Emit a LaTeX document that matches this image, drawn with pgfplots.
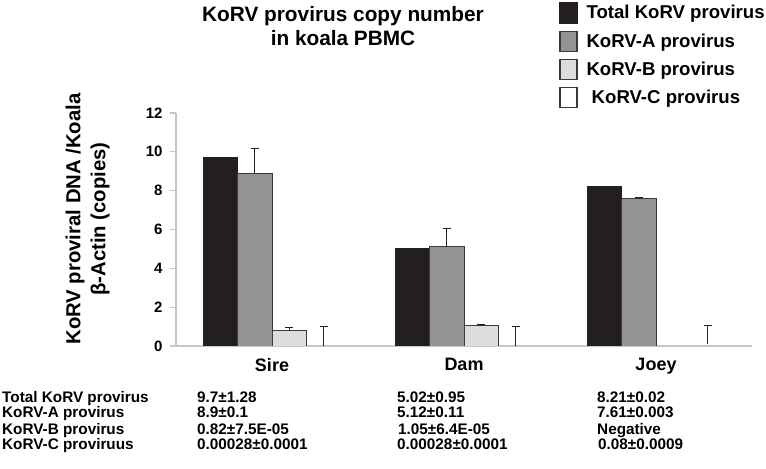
\documentclass[border=0pt]{standalone}
\usepackage{pgfplots}
\pgfplotsset{compat=1.18}
\usepackage{fontspec}
\setmainfont{Liberation Sans}
\definecolor{cblack}{HTML}{231F20}
\definecolor{cgray}{HTML}{929395}
\definecolor{clight}{HTML}{DCDDDE}
\definecolor{cedge}{HTML}{3A3A3A}
\definecolor{axisgray}{HTML}{C6C6C6}
\begin{document}
\begin{tikzpicture}[x=1bp,y=1bp]
\path[use as bounding box] (0,0) rectangle (766,469);
\begin{axis}[
  at={(176bp,123bp)}, anchor=south west,
  scale only axis, width=576bp, height=233bp,
  xmin=-0.5, xmax=2.5, ymin=0, ymax=12,
  axis x line*=bottom, axis y line*=left,
  axis line style={draw=axisgray, line width=1.5bp},
  ytick={0,2,...,12},
  xtick={0,1,2}, xticklabels={Sire,Dam,Joey},
  x tick style={draw=none},
  extra x ticks={0.5,1.5,2.5}, extra x tick labels={},
  extra x tick style={tick style={draw=axisgray, line width=1.2bp}},
  tick align=outside, major tick length=6bp,
  y tick style={draw=axisgray, line width=1.2bp},
  yticklabel style={font=\bfseries\fontsize{15bp}{16bp}\selectfont, xshift=-4bp},
  xticklabel style={font=\bfseries\fontsize{18bp}{20bp}\selectfont, yshift=-3bp},
  /pgf/number format/assume math mode=true,
  ylabel={KoRV proviral DNA /Koala\\β-Actin (copies)},
  ylabel style={font=\bfseries\fontsize{20.3bp}{25bp}\selectfont, align=center,
    at={(rel axis cs:-0.1536,0.545)}, anchor=center, rotate=0},
  ybar=0pt, bar width=34.5bp,
  legend style={at={(rel axis cs:0.665,1.476)}, anchor=north west, draw=none, fill=none,
    font=\bfseries\fontsize{18.6bp}{21bp}\selectfont, row sep=7bp, inner sep=0pt,
    nodes={inner sep=1bp},
    /tikz/every odd column/.append style={column sep=8bp}},
  legend cell align=left,
  legend image code/.code={\draw[#1, line width=1.3bp] (0bp,-10bp) rectangle (17bp,10bp);},
  error bars/error mark options={rotate=90, draw=cblack, line width=1bp, mark size=4bp},
]
\addlegendimage{fill=cblack, draw=cblack}
\addlegendentry{Total KoRV provirus}
\addlegendimage{fill=cgray, draw=cedge}
\addlegendentry{KoRV-A provirus}
\addlegendimage{fill=clight, draw=cedge}
\addlegendentry{KoRV-B provirus}
\addlegendimage{fill=white, draw=cedge}
\addlegendentry{~KoRV-C provirus}

\addplot[forget plot, bar shift=-51.75bp, fill=cblack, draw=cblack, line width=0.8bp]
  coordinates {(0,9.7) (1,5.02) (2,8.21)};
\addplot[forget plot, bar shift=-17.25bp, fill=cgray, draw=cedge, line width=0.8bp,
  error bars/.cd, y dir=plus, y explicit,
  error bar style={draw=cblack, line width=1bp}]
  coordinates {(0,8.9) +- (0,1.28) (1,5.12) +- (0,0.95) (2,7.61) +- (0,0.02)};
\addplot[forget plot, bar shift=17.25bp, fill=clight, draw=cedge, line width=0.8bp,
  error bars/.cd, y dir=plus, y explicit,
  error bar style={draw=cblack, line width=1bp}]
  coordinates {(0,0.82) +- (0,0.11) (1,1.05) +- (0,0.05)};
\addplot[forget plot, bar shift=51.75bp, fill=none, draw=none,
  error bars/.cd, y dir=plus, y explicit,
  error bar style={draw=cblack, line width=1bp}]
  coordinates {(0,0.00028) +- (0,0.98) (1,0.00028) +- (0,1.0) (2,0.08) +- (0,0.97)};
\end{axis}
% title
\node[font=\bfseries\fontsize{20.8bp}{24.5bp}\selectfont, align=center, anchor=north, inner sep=0]
  at (343,463) {KoRV provirus copy number\\in koala PBMC};
% table
\begin{scope}[every node/.style={anchor=base west, inner sep=0, font=\bfseries\fontsize{15.3bp}{16bp}\selectfont}]
\node at (2,66.3) {Total KoRV provirus};
\node at (2,51.3) {KoRV-A provirus};
\node at (2,34.7) {KoRV-B provirus};
\node at (2,19) {KoRV-C proviruus};
\node at (197,66.3) {9.7±1.28};
\node at (197,51.3) {8.9±0.1};
\node at (197,34.7) {0.82±7.5E-05};
\node at (197,19) {0.00028±0.0001};
\node at (397,66.3) {5.02±0.95};
\node at (397,51.3) {5.12±0.11};
\node at (398,34.7) {1.05±6.4E-05};
\node at (397,19) {0.00028±0.0001};
\node at (597,66.3) {8.21±0.02};
\node at (597,51.3) {7.61±0.003};
\node at (597,34.7) {Negative};
\node at (598,19) {0.08±0.0009};
\end{scope}
\end{tikzpicture}
\end{document}
